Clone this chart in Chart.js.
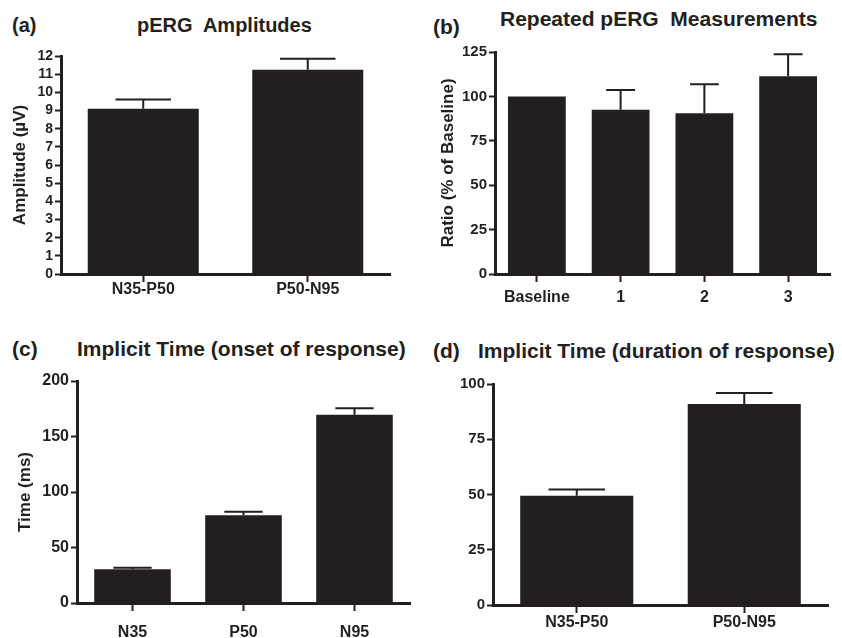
<!DOCTYPE html>
<html>
<head>
<meta charset="utf-8">
<script src="https://cdn.jsdelivr.net/npm/chart.js@4.4.0/dist/chart.umd.min.js"></script>
<style>
  html, body { margin: 0; padding: 0; background: #fff; }
  body { width: 842px; height: 638px; position: relative; overflow: hidden; font-family: "Liberation Sans", Arial, sans-serif; }
  .panel { position: absolute; width: 421px; height: 319px; }
  .panel canvas { position: absolute; left: 0; top: 0; }
  .txt { position: absolute; font-weight: bold; color: #231f20; white-space: pre; line-height: 1; }
</style>
</head>
<body>
<div class="txt" style="left:12px;top:15px;font-size:20px;">(a)</div>
<div class="txt" style="left:137px;top:15px;font-size:20px;">pERG  Amplitudes</div>
<div class="txt" style="left:433px;top:16px;font-size:21px;">(b)</div>
<div class="txt" style="left:500px;top:8px;font-size:21px;">Repeated pERG  Measurements</div>
<div class="txt" style="left:12px;top:338px;font-size:21px;">(c)</div>
<div class="txt" style="left:77px;top:338px;font-size:21px;">Implicit Time (onset of response)</div>
<div class="txt" style="left:433px;top:340px;font-size:21px;">(d)</div>
<div class="txt" style="left:478px;top:340px;font-size:21px;">Implicit Time (duration of response)</div>

<div class="panel" style="left:0;top:0;"><canvas id="ca" width="421" height="319"></canvas></div>
<div class="panel" style="left:421px;top:0;"><canvas id="cb" width="421" height="319"></canvas></div>
<div class="panel" style="left:0;top:319px;"><canvas id="cc" width="421" height="319"></canvas></div>
<div class="panel" style="left:421px;top:319px;"><canvas id="cd" width="421" height="319"></canvas></div>

<script>
// ---- Data ----
const aLabels = ['N35-P50', 'P50-N95'];
const aValues = [9.1, 11.25];
const aErrors = [0.5, 0.6];

const bLabels = ['Baseline', '1', '2', '3'];
const bValues = [100, 92.5, 90.5, 111.3];
const bErrors = [0, 11.1, 16.3, 12.4];

const cLabels = ['N35', 'P50', 'N95'];
const cValues = [30.3, 79, 169.7];
const cErrors = [1.5, 3.2, 5.7];

const dLabels = ['N35-P50', 'P50-N95'];
const dValues = [49.4, 90.9];
const dErrors = [2.9, 5.0];

// ---- Styling helpers ----
const INK = '#231f20';
const FONT = '"Liberation Sans", Arial, sans-serif';

const errorBarPlugin = {
  id: 'errorBars',
  afterDatasetsDraw(chart) {
    const errs = chart.options.plugins.errorBars.errors;
    const yScale = chart.scales.y;
    const meta = chart.getDatasetMeta(0);
    const vals = chart.data.datasets[0].data;
    const ctx = chart.ctx;
    ctx.save();
    ctx.strokeStyle = INK;
    ctx.lineWidth = 2;
    meta.data.forEach((bar, i) => {
      const e = errs[i];
      if (!e) return;
      const yTop = yScale.getPixelForValue(vals[i] + e);
      const half = bar.width / 4;
      ctx.beginPath();
      ctx.moveTo(bar.x, bar.y);
      ctx.lineTo(bar.x, yTop);
      ctx.moveTo(bar.x - half, yTop);
      ctx.lineTo(bar.x + half, yTop);
      ctx.stroke();
    });
    ctx.restore();
  }
};

function makeChart(id, cfg) {
  const ctx = document.getElementById(id);
  return new Chart(ctx, {
    type: 'bar',
    data: {
      labels: cfg.labels,
      datasets: [{
        data: cfg.values,
        backgroundColor: INK,
        borderWidth: 0,
        categoryPercentage: 1,
        barPercentage: cfg.barPct
      }]
    },
    options: {
      responsive: false,
      animation: false,
      events: [],
      layout: { padding: cfg.padding },
      plugins: {
        legend: { display: false },
        tooltip: { enabled: false },
        title: { display: false },
        errorBars: { errors: cfg.errors }
      },
      scales: {
        x: {
          offset: true,
          afterFit: (s) => { s.height = cfg.xHeight; },
          grid: { display: true, drawOnChartArea: false, drawTicks: true, offset: false,
                  tickLength: 8, tickWidth: 2, tickColor: INK },
          border: { display: true, width: 3, color: INK },
          ticks: { color: INK, padding: cfg.xPad, maxRotation: 0, autoSkip: false,
                   font: { family: FONT, size: cfg.xFont, weight: 'bold' } }
        },
        y: {
          min: 0, max: cfg.max,
          afterFit: (s) => { s.width = cfg.yWidth; },
          grid: { display: true, drawOnChartArea: false, drawTicks: true,
                  tickLength: 6, tickWidth: 2, tickColor: INK },
          border: { display: true, width: 3, color: INK },
          ticks: { stepSize: cfg.step, color: INK, padding: 2, autoSkip: false,
                   font: { family: FONT, size: cfg.yFont, weight: 'bold' } },
          title: {
            display: !!cfg.yTitle, text: cfg.yTitle || '', color: INK, padding: 0,
            font: { family: FONT, size: 17, weight: 'bold' }
          }
        }
      }
    },
    plugins: [errorBarPlugin]
  });
}

makeChart('ca', {
  labels: aLabels, values: aValues, errors: aErrors, max: 12, step: 1,
  barPct: 0.675, padding: { left: 10, right: 31, top: 56, bottom: 5 },
  yWidth: 51, xHeight: 40, xPad: -2, xFont: 16, yFont: 14, yTitle: 'Amplitude (\u00b5V)'
});
makeChart('cb', {
  labels: bLabels, values: bValues, errors: bErrors, max: 125, step: 25,
  barPct: 0.69, padding: { left: 17, right: 12, top: 52, bottom: 5 },
  yWidth: 57, xHeight: 40, xPad: 6, xFont: 16, yFont: 15, yTitle: 'Ratio (% of Baseline)'
});
makeChart('cc', {
  labels: cLabels, values: cValues, errors: cErrors, max: 200, step: 50,
  barPct: 0.69, padding: { left: 15, right: 11, top: 62, bottom: 0 },
  yWidth: 62, xHeight: 35, xPad: 12, xFont: 16, yFont: 16, yTitle: 'Time (ms)'
});
makeChart('cd', {
  labels: dLabels, values: dValues, errors: dErrors, max: 100, step: 25,
  barPct: 0.675, padding: { left: 0, right: 14, top: 65, bottom: 0 },
  yWidth: 72, xHeight: 33, xPad: 0, xFont: 16, yFont: 15, yTitle: ''
});
</script>
</body>
</html>
